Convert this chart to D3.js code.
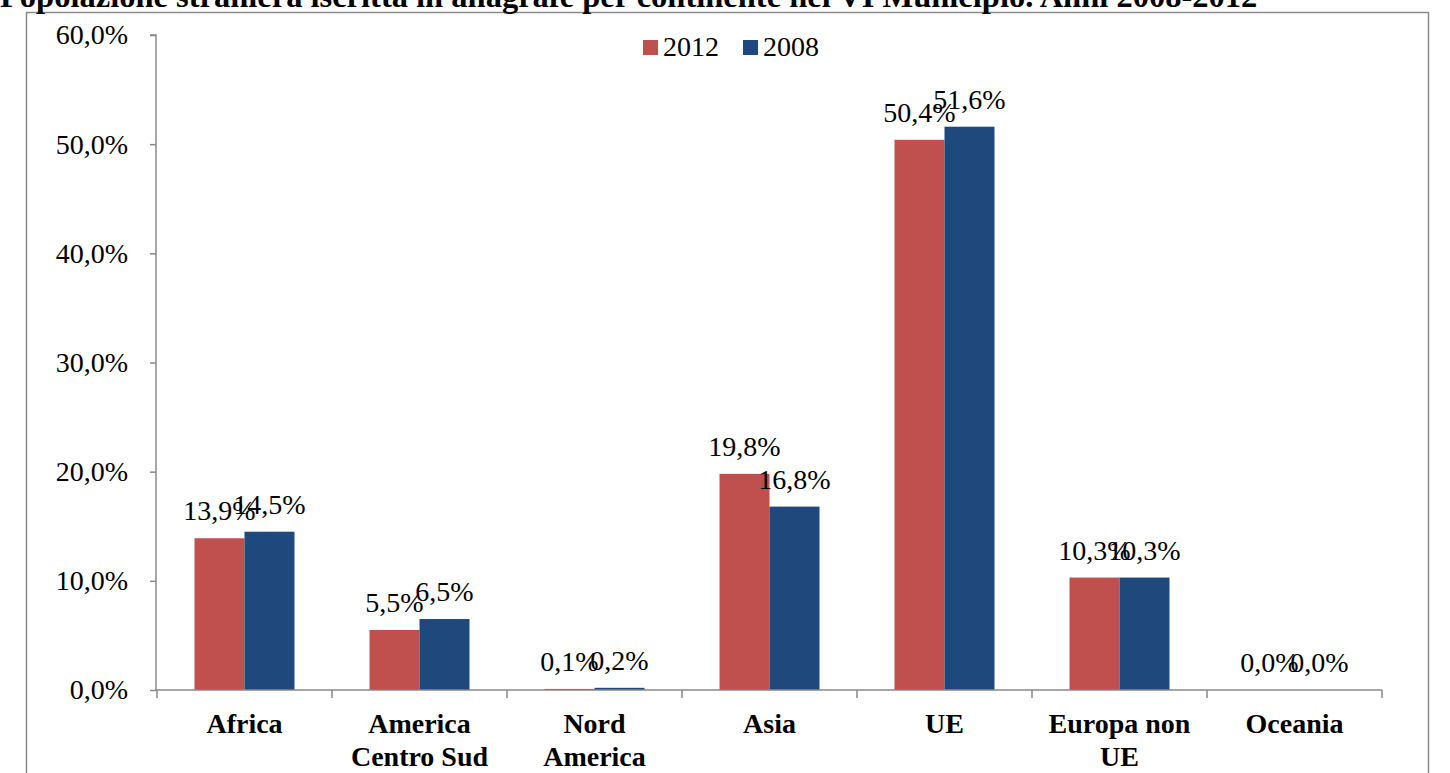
<!DOCTYPE html>
<html>
<head>
<meta charset="utf-8">
<script src="https://cdn.jsdelivr.net/npm/d3@7"></script>
<style>
  html, body { margin: 0; padding: 0; background: #fff; }
  svg { display: block; font-family: "Liberation Serif", "Times New Roman", serif; }
</style>
</head>
<body>
<svg class="chart" width="1450" height="773"></svg>
<script>
var categories = [["Africa"], ["America", "Centro Sud"], ["Nord", "America"], ["Asia"], ["UE"], ["Europa non", "UE"], ["Oceania"]];
var seriesNames = ["2012", "2008"];
var values2012 = [13.9, 5.5, 0.1, 19.8, 50.4, 10.3, 0.0];
var values2008 = [14.5, 6.5, 0.2, 16.8, 51.6, 10.3, 0.0];
var yTicks = [0, 10, 20, 30, 40, 50, 60];
var colors = { "2012": "#C0504D", "2008": "#1F497D" };
var title = "Popolazione straniera iscritta in anagrafe per continente nel VI Municipio. Anni 2008-2012";

var svg = d3.select("svg.chart");
var axisColor = "#898989";
var fmt = function (v) { return d3.format(".1f")(v).replace(".", ",") + "%"; };

// chart frame (bottom cut off by the page)
svg.append("rect")
  .attr("x", 26.5).attr("y", 12.5)
  .attr("width", 1402).attr("height", 800)
  .attr("fill", "none").attr("stroke", "#8a8a8a").attr("stroke-width", 1.5);

// title, partly cut off at the top
svg.append("text")
  .attr("x", 0).attr("y", 7)
  .attr("font-size", 32.5).attr("font-weight", "bold")
  .text(title);

var keys = categories.map(function (c) { return c.join(" "); });
var p = 0.4286;
var x = d3.scaleBand().domain(keys).range([157, 1382]).paddingInner(p).paddingOuter(p / 2);
var xs = d3.scaleBand().domain(seriesNames).range([0, x.bandwidth()]);
var y = d3.scaleLinear().domain([0, 60]).range([690, 35]);

// y axis
var yAxis = svg.append("g")
  .attr("transform", "translate(156,0)")
  .call(d3.axisLeft(y).tickValues(yTicks).tickSize(6).tickPadding(22).tickFormat(fmt));
yAxis.selectAll("path, line").attr("stroke", axisColor).attr("stroke-width", 1.5);
yAxis.select(".domain").attr("d", "M-6," + y(60) + "H0V" + y(0));
yAxis.selectAll("text")
  .attr("font-family", "Liberation Serif").attr("font-size", 28).attr("fill", "#000");

// bars
var rows = keys.map(function (k, i) {
  return { key: k, lines: categories[i], vals: { "2012": values2012[i], "2008": values2008[i] } };
});

var groups = svg.append("g").selectAll("g")
  .data(rows).enter().append("g")
  .attr("transform", function (d) { return "translate(" + x(d.key) + ",0)"; });

groups.selectAll("rect")
  .data(function (d) { return seriesNames.map(function (s) { return { s: s, v: d.vals[s] }; }); })
  .enter().append("rect")
  .attr("x", function (d) { return xs(d.s); })
  .attr("y", function (d) { return y(d.v); })
  .attr("width", xs.bandwidth())
  .attr("height", function (d) { return y(0) - y(d.v); })
  .attr("fill", function (d) { return colors[d.s]; });

groups.selectAll("text.lbl")
  .data(function (d) { return seriesNames.map(function (s) { return { s: s, v: d.vals[s] }; }); })
  .enter().append("text")
  .attr("class", "lbl")
  .attr("x", function (d) { return xs(d.s) + xs.bandwidth() / 2; })
  .attr("y", function (d) { return y(d.v) - 18; })
  .attr("text-anchor", "middle")
  .attr("font-size", 28)
  .text(function (d) { return fmt(d.v); });

// x axis with ticks between categories
var xAxis = svg.append("g");
xAxis.append("line")
  .attr("x1", 156).attr("x2", 1382).attr("y1", y(0)).attr("y2", y(0))
  .attr("stroke", axisColor).attr("stroke-width", 1.5);
var bounds = keys.map(function (k) { return x(k) - x.step() * p / 2; }).concat([1382]);
xAxis.selectAll("line.tick")
  .data(bounds).enter().append("line")
  .attr("class", "tick")
  .attr("x1", function (d) { return d; }).attr("x2", function (d) { return d; })
  .attr("y1", y(0)).attr("y2", y(0) + 8)
  .attr("stroke", axisColor).attr("stroke-width", 1.5);

var catLabels = xAxis.selectAll("text")
  .data(rows).enter().append("text")
  .attr("x", function (d) { return x(d.key) + x.bandwidth() / 2; })
  .attr("y", 733)
  .attr("text-anchor", "middle")
  .attr("font-size", 28).attr("font-weight", "bold");
catLabels.selectAll("tspan")
  .data(function (d) { return d.lines; })
  .enter().append("tspan")
  .attr("x", function () { var r = d3.select(this.parentNode).datum(); return x(r.key) + x.bandwidth() / 2; })
  .attr("dy", function (d, i) { return i === 0 ? 0 : 33; })
  .text(function (d) { return d; });

// legend
var legend = svg.append("g").selectAll("g")
  .data(seriesNames).enter().append("g")
  .attr("transform", function (d, i) { return "translate(" + (643 + i * 100) + ",0)"; });
legend.append("rect")
  .attr("x", 0).attr("y", 40).attr("width", 15).attr("height", 15)
  .attr("fill", function (d) { return colors[d]; });
legend.append("text")
  .attr("x", 20).attr("y", 56)
  .attr("font-size", 28)
  .text(function (d) { return d; });
</script>
</body>
</html>
